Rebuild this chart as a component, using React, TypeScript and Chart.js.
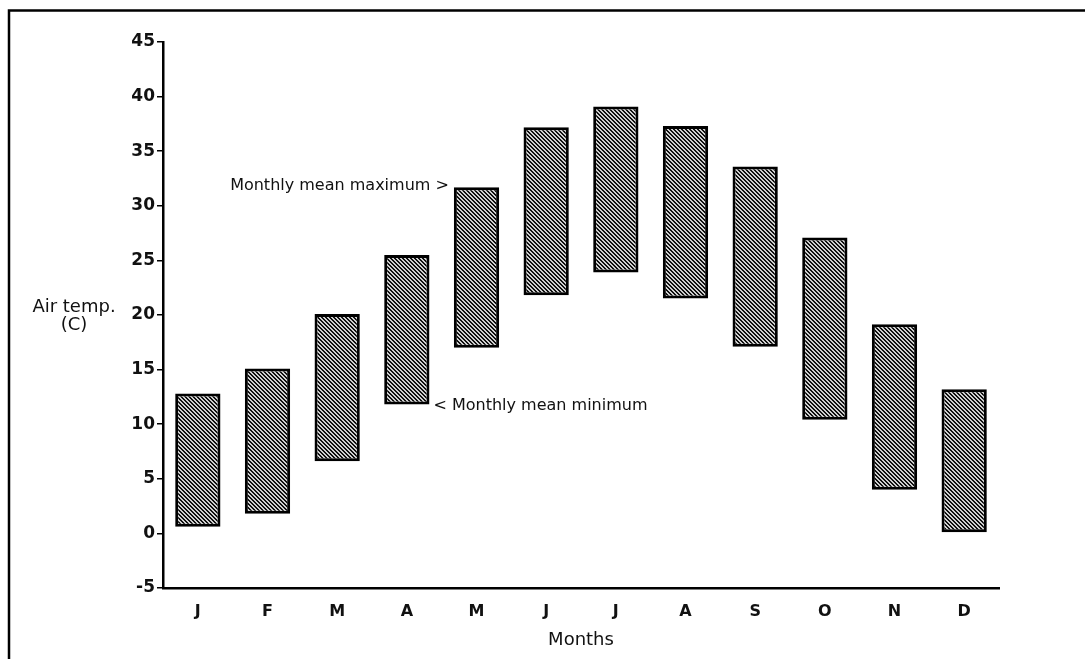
import React, { useEffect, useRef } from 'react';
import { Chart, registerables } from 'chart.js';

Chart.register(...registerables);

// ---- data ----
const months = ['J', 'F', 'M', 'A', 'M', 'J', 'J', 'A', 'S', 'O', 'N', 'D'];
const meanMin = [0.6, 1.8, 6.6, 11.8, 17.0, 21.8, 23.9, 21.5, 17.1, 10.4, 4.0, 0.1];
const meanMax = [12.8, 15.1, 20.1, 25.5, 31.7, 37.2, 39.1, 37.3, 33.6, 27.1, 19.15, 13.2];
const yMin = -5;
const yMax = 45;
const yStep = 5;
const yAxisTitle = ['Air temp.', '(C)'];
const xAxisTitle = 'Months';
const maxNoteText = 'Monthly mean maximum >';
const minNoteText = '< Monthly mean minimum';
const maxNoteIndex = 4; // May
const minNoteIndex = 3; // April

const W = 1085;
const H = 659;
const FONT = '"DejaVu Sans", "Liberation Sans", Arial, sans-serif';

function makePattern(ctx: CanvasRenderingContext2D): CanvasPattern | string {
  const pc = document.createElement('canvas');
  pc.width = 4;
  pc.height = 4;
  const p = pc.getContext('2d');
  if (!p) return '#707070';
  p.fillStyle = '#cfcfcf';
  p.fillRect(0, 0, 4, 4);
  p.fillStyle = '#101010';
  for (let i = 0; i < 4; i++) {
    p.fillRect(i, i, 1, 1);
    p.fillRect((i + 1) % 4, i, 1, 1);
  }
  return ctx.createPattern(pc, 'repeat') || '#707070';
}

const decorPlugin = {
  id: 'decor',
  beforeDraw(chart: any) {
    const { ctx } = chart;
    ctx.save();
    ctx.fillStyle = '#ffffff';
    ctx.fillRect(0, 0, chart.width, chart.height);
    ctx.restore();
  },
  afterDraw(chart: any) {
    const { ctx, chartArea } = chart;
    const yScale = chart.scales.y;
    const meta = chart.getDatasetMeta(0);
    ctx.save();
    // frame (top and left only)
    ctx.strokeStyle = '#000';
    ctx.lineWidth = 2.5;
    ctx.beginPath();
    ctx.moveTo(chart.width, 10.5);
    ctx.lineTo(9, 10.5);
    ctx.lineTo(9, chart.height);
    ctx.stroke();

    // y axis title (horizontal, two lines)
    ctx.fillStyle = '#111';
    ctx.font = `18px ${FONT}`;
    ctx.textAlign = 'center';
    ctx.textBaseline = 'middle';
    const tx = chartArea.left - 89;
    const ty = yScale.getPixelForValue(20) - 8;
    yAxisTitle.forEach((line, i) => ctx.fillText(line, tx, ty + i * 18));

    // notes
    ctx.font = `16px ${FONT}`;
    const bMax = meta.data[maxNoteIndex];
    if (bMax) {
      const left = bMax.x - bMax.width / 2;
      ctx.textAlign = 'right';
      ctx.fillText(maxNoteText, left - 5, yScale.getPixelForValue(meanMax[maxNoteIndex]) - 1);
    }
    const bMin = meta.data[minNoteIndex];
    if (bMin) {
      const right = bMin.x + bMin.width / 2;
      ctx.textAlign = 'left';
      ctx.fillText(minNoteText, right + 4, yScale.getPixelForValue(meanMin[minNoteIndex]) + 1);
    }
    ctx.restore();
  },
};

export default function App() {
  const ref = useRef<HTMLCanvasElement | null>(null);

  useEffect(() => {
    document.body.style.margin = '0';
    const canvas = ref.current;
    if (!canvas) return;
    const ctx = canvas.getContext('2d');
    if (!ctx) return;
    const pattern = makePattern(ctx);

    const chart = new Chart(ctx, {
      type: 'bar',
      data: {
        labels: months,
        datasets: [
          {
            data: months.map((_, i) => [meanMin[i], meanMax[i]]) as any,
            backgroundColor: pattern as any,
            borderColor: '#000',
            borderWidth: 3,
            borderSkipped: false,
            barPercentage: 0.65,
            categoryPercentage: 1,
          },
        ],
      },
      options: {
        responsive: false,
        animation: false,
        devicePixelRatio: 1,
        layout: { padding: { top: 42, right: 86, bottom: 0, left: 0 } },
        plugins: {
          legend: { display: false },
          tooltip: { enabled: false },
          title: { display: false },
        },
        scales: {
          x: {
            offset: true,
            grid: { display: false, drawTicks: false },
            border: { display: true, color: '#000', width: 2.5 },
            ticks: {
              color: '#111',
              font: { family: FONT, size: 16, weight: 'bold' },
              padding: 14,
              maxRotation: 0,
              autoSkip: false,
            },
            title: {
              display: true,
              text: xAxisTitle,
              color: '#111',
              font: { family: FONT, size: 18 },
              padding: { top: 2, bottom: 8 },
            },
            afterFit: (scale: any) => {
              scale.height = 71;
            },
          },
          y: {
            min: yMin,
            max: yMax,
            grid: {
              display: true,
              drawOnChartArea: false,
              drawTicks: true,
              tickLength: 6,
              color: '#000',
              lineWidth: 1.5,
            },
            border: { display: true, color: '#000', width: 2.5 },
            ticks: {
              stepSize: yStep,
              color: '#111',
              font: { family: FONT, size: 17, weight: 'bold' },
              padding: 2,
            },
            afterFit: (scale: any) => {
              scale.width = 163;
            },
          },
        },
      },
      plugins: [decorPlugin],
    });

    return () => chart.destroy();
  }, []);

  return (
    <div style={{ width: W, height: H, position: 'relative' }}>
      <canvas ref={ref} width={W} height={H} style={{ display: 'block', width: W, height: H }} />
    </div>
  );
}
